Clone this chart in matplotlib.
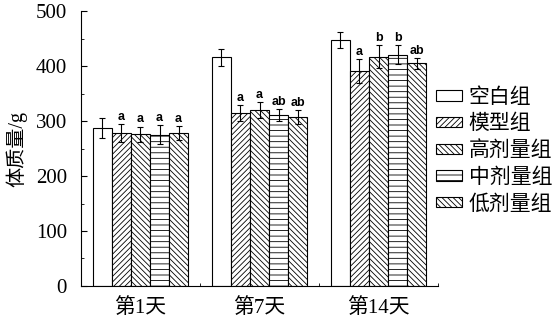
import numpy as np
import matplotlib.pyplot as plt
from matplotlib.ticker import MultipleLocator

plt.rcParams['font.family'] = ['Liberation Serif', 'Noto Sans CJK SC']
plt.rcParams['hatch.linewidth'] = 0.6

# 各时间点
days = ['第1天', '第7天', '第14天']
groups = ['空白组', '模型组', '高剂量组', '中剂量组', '低剂量组']

# 体质量均值与标准差 (g)
blank_mean = [287, 416, 447]
model_mean = [278, 315, 391]
high_mean = [276, 320, 417]
mid_mean = [275, 311, 421]
low_mean = [278, 307, 405]

blank_sd = [18, 15, 15]
model_sd = [16, 14, 21]
high_sd = [14, 15, 21]
mid_sd = [17, 11, 17]
low_sd = [13, 13, 10]

# 显著性标记
sig_model = ['a', 'a', 'a']
sig_high = ['a', 'a', 'b']
sig_mid = ['a', 'ab', 'b']
sig_low = ['a', 'ab', 'ab']

means = [blank_mean, model_mean, high_mean, mid_mean, low_mean]
sds = [blank_sd, model_sd, high_sd, mid_sd, low_sd]
sigs = [None, sig_model, sig_high, sig_mid, sig_low]
hatches = ['', '//////', '\\\\\\\\\\\\', '---', '\\\\\\\\\\\\']

fig = plt.figure(figsize=(5.57, 3.23), dpi=100)
ax = fig.add_axes([0.1454, 0.1146, 0.641, 0.851])

x = np.arange(len(days))
w = 0.16
for i, (m, s, h, g) in enumerate(zip(means, sds, hatches, groups)):
    pos = x + (i - 2) * w
    ax.bar(pos, m, w, facecolor='white', edgecolor='black', linewidth=0.8,
           hatch=h, label=g, zorder=2)
    ax.errorbar(pos, m, yerr=s, fmt='none', ecolor='black', elinewidth=0.8,
                capsize=2.5, capthick=0.8, zorder=3)
    if sigs[i] is not None:
        for px, mv, sv, t in zip(pos, m, s, sigs[i]):
            ax.text(px, mv + sv + 2, t, ha='center', va='bottom', fontsize=9,
                    fontweight='bold', family='Liberation Sans')

ax.set_xlim(-0.5, 2.5)
ax.set_ylim(0, 500)
ax.spines['top'].set_visible(False)
ax.spines['right'].set_visible(False)
ax.yaxis.set_major_locator(MultipleLocator(100))
ax.yaxis.set_minor_locator(MultipleLocator(50))
ax.tick_params(axis='y', which='both', direction='in', labelsize=15, length=4, pad=10)
ax.tick_params(axis='y', which='minor', length=2.5)

ax.set_xticks([0.5, 1.5, 2.5], minor=True)
ax.set_xticks(x)
ax.set_xticklabels(days, fontsize=15)
ax.tick_params(axis='x', which='major', length=0, pad=9)
ax.tick_params(axis='x', which='minor', direction='in', length=2.5)

ax.set_ylabel('体质量/g', fontsize=14.5, labelpad=6)

ax.legend(loc='center left', bbox_to_anchor=(0.993, 0.49), frameon=False,
          fontsize=15, handlelength=1.25, handleheight=0.4, handletextpad=0.35,
          labelspacing=0.34, borderaxespad=0, borderpad=0)

fig.savefig('out.png', dpi=100)
